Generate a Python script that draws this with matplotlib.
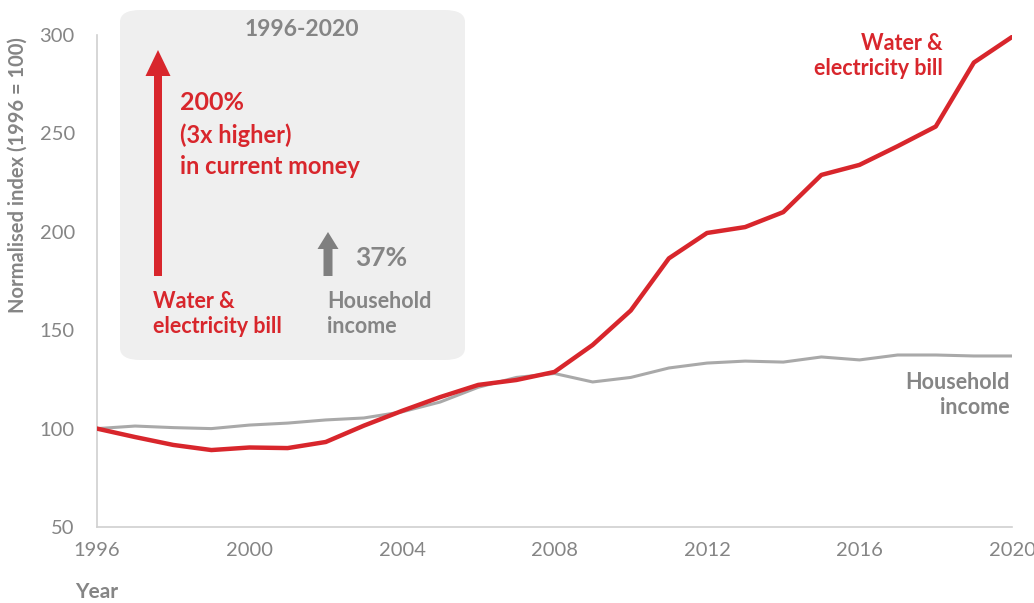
import matplotlib.pyplot as plt
from matplotlib.patches import FancyBboxPatch, FancyArrow
from matplotlib.transforms import IdentityTransform

years = list(range(1996, 2021))
bill = [100, 95.7, 91.7, 89.1, 90.4, 90.1, 93.2, 101.5, 109, 116, 122.2, 124.7, 128.8,
        142.5, 160, 186.5, 199.4, 202.4, 210, 228.9, 234, 243.5, 253.5, 286, 299]
income = [100, 101.3, 100.5, 100, 101.8, 102.8, 104.4, 105.4, 108.5, 113.5, 121, 126, 128,
          123.7, 126, 130.8, 133.3, 134.3, 133.8, 136.4, 134.9, 137.4, 137.4, 136.9, 136.9]
xticks = [1996, 2000, 2004, 2008, 2012, 2016, 2020]
yticks = [50, 100, 150, 200, 250, 300]

RED = '#d8262c'
GREY_LINE = '#a9a9a9'
GREY_TXT = '#858585'

plt.rcParams['font.family'] = ['Lato', 'DejaVu Sans']

W, H = 1034, 603
fig = plt.figure(figsize=(W / 100, H / 100), dpi=100)
ax = fig.add_axes([97 / W, 1 - 527 / H, 915 / W, 492 / H])


def px(x, y):
    # figure pixels from top-left -> figure fraction
    return x / W, 1 - y / H


# annotation box (behind the axes)
bx0, by0 = px(120, 360)
bx1, by1 = px(465, 10)
box = FancyBboxPatch((bx0, by0), bx1 - bx0, by1 - by0,
                     boxstyle='round,pad=0,rounding_size=0.02',
                     transform=fig.transFigure, facecolor='#efefef',
                     edgecolor='none', zorder=-1)
fig.patches.append(box)

ax.plot(years, income, color=GREY_LINE, linewidth=2.2, zorder=2)
ax.plot(years, bill, color=RED, linewidth=3.2, zorder=3)

ax.set_xlim(1996, 2020)
ax.set_ylim(50, 300)
ax.set_xticks(xticks)
ax.set_yticks(yticks)
ax.set_facecolor('none')
for s in ['top', 'right']:
    ax.spines[s].set_visible(False)
for s in ['left', 'bottom']:
    ax.spines[s].set_color('#d0d0d0')
    ax.spines[s].set_linewidth(1.2)
ax.tick_params(length=0, labelsize=14.5, labelcolor=GREY_TXT)
ax.tick_params(axis='x', pad=11)
ax.tick_params(axis='y', pad=16)

fig.text(*px(18, 175), 'Normalised index (1996 = 100)', rotation=90, ha='center', va='center',
         fontsize=14.5, color=GREY_TXT, fontweight='bold')
fig.text(*px(75, 592), 'Year', ha='left', va='center', fontsize=15, color=GREY_TXT,
         fontweight='bold')

# line end labels
fig.text(*px(943, 56), 'Water &\nelectricity bill', ha='right', va='center', fontsize=15.5,
         color=RED, fontweight='bold', linespacing=1.25)
fig.text(*px(1010, 395), 'Household\nincome', ha='right', va='center', fontsize=15.5,
         color=GREY_TXT, fontweight='bold', linespacing=1.25)

# box contents
fig.text(*px(302, 30), '1996-2020', ha='center', va='center', fontsize=16.5,
         color=GREY_TXT, fontweight='bold')
fig.add_artist(FancyArrow(158, H - 276, 0, 226, width=8, head_width=25, head_length=26,
                          length_includes_head=True, transform=IdentityTransform(),
                          color=RED, linewidth=0, zorder=5))
fig.add_artist(FancyArrow(328, H - 276, 0, 44, width=9, head_width=21, head_length=17,
                          length_includes_head=True, transform=IdentityTransform(),
                          color='#7f7f7f', linewidth=0, zorder=5))
fig.text(*px(180, 102), '200%', ha='left', va='center', fontsize=18, color=RED,
         fontweight='bold')
fig.text(*px(180, 135), '(3x higher)', ha='left', va='center', fontsize=17, color=RED,
         fontweight='bold')
fig.text(*px(180, 167), 'in current money', ha='left', va='center', fontsize=17, color=RED,
         fontweight='bold')
fig.text(*px(355, 258), '37%', ha='left', va='center', fontsize=19, color=GREY_TXT,
         fontweight='bold')
fig.text(*px(153, 314), 'Water &\nelectricity bill', ha='left', va='center', fontsize=15.5,
         color=RED, fontweight='bold', linespacing=1.25)
fig.text(*px(327, 314), 'Household\nincome', ha='left', va='center', fontsize=15.5,
         color=GREY_TXT, fontweight='bold', linespacing=1.25)

plt.savefig('out.png', dpi=100)
